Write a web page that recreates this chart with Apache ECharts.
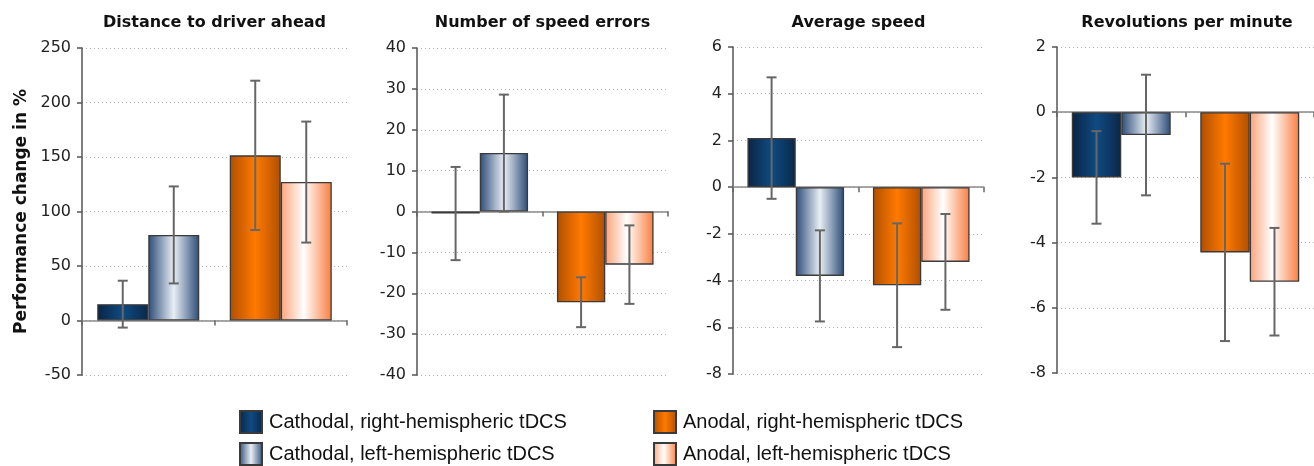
<!DOCTYPE html>
<html>
<head>
<meta charset="utf-8">
<script src="https://cdn.jsdelivr.net/npm/echarts@6/dist/echarts.min.js"></script>
<style>
  html, body { margin: 0; padding: 0; background: #fff; }
  #main { width: 1314px; height: 466px; }
</style>
</head>
<body>
<div id="main"></div>
<script>
// chart data
var categories = ['Cathodal', 'Anodal'];
var panelTitles = ['Distance to driver ahead', 'Number of speed errors', 'Average speed', 'Revolutions per minute'];
var seriesNames = ['Cathodal, right-hemispheric tDCS', 'Cathodal, left-hemispheric tDCS',
  'Anodal, right-hemispheric tDCS', 'Anodal, left-hemispheric tDCS'];

// one value per panel
var cathodalRight = [15, -0.5, 2.1, -2.0];
var cathodalLeft = [78.5, 14.3, -3.8, -0.7];
var anodalRight = [151.5, -22.2, -4.2, -4.3];
var anodalLeft = [127, -13, -3.2, -5.2];

// error bar half-widths
var cathodalRightErr = [21.5, 11.4, 2.6, 1.42];
var cathodalLeftErr = [44.5, 14.3, 1.95, 1.85];
var anodalRightErr = [68.5, 6.1, 2.65, 2.72];
var anodalLeftErr = [55.5, 9.6, 2.05, 1.65];

// y axis ticks
var yMin = [-50, -40, -8, -8];
var yMax = [250, 40, 6, 2];
var yStep = [50, 10, 2, 2];

var myChart = echarts.init(document.getElementById('main'));

var BAR_FRAC = 0.385;
var grids = [
  { left: 82, top: 48, width: 265, height: 327 },
  { left: 417, top: 48, width: 251, height: 327 },
  { left: 733, top: 47, width: 251, height: 327 },
  { left: 1057, top: 47, width: 260, height: 326 }
];
// legend item spots (2 x 2)
var legendPos = [[239, 410], [239, 442], [653, 410], [653, 442]];

function grad(stops) {
  return new echarts.graphic.LinearGradient(0, 0, 1, 0, stops.map(function(s) {
    return { offset: s[0], color: s[1] };
  }));
}
var fills = [
  grad([[0, '#0a2444'], [0.5, '#0f4b82'], [1, '#0a2748']]),
  grad([[0, '#2c4c78'], [0.5, '#e8eef4'], [1, '#2c4c78']]),
  grad([[0, '#b04f00'], [0.5, '#ff7a00'], [1, '#b04f00']]),
  grad([[0, '#fca27a'], [0.45, '#ffffff'], [1, '#f97e40']])
];

var option = {
  backgroundColor: '#fff',
  animation: false,
  title: [],
  grid: grids,
  xAxis: [],
  yAxis: [],
  legend: [],
  series: []
};

for (var k = 0; k < 4; k++) {
  option.legend.push({
    left: legendPos[k][0], top: legendPos[k][1], padding: 0,
    icon: 'rect', itemWidth: 22, itemHeight: 22,
    selectedMode: false,
    data: [seriesNames[k]],
    textStyle: { fontFamily: 'Liberation Sans', fontSize: 20, color: '#111', padding: [0, 0, 0, 2] }
  });
}

var groupValues = [cathodalRight, cathodalLeft, anodalRight, anodalLeft];
var groupErrs = [cathodalRightErr, cathodalLeftErr, anodalRightErr, anodalLeftErr];

for (var p = 0; p < 4; p++) {
  var g = grids[p];
  option.title.push({
    text: panelTitles[p],
    left: g.left + g.width / 2,
    top: 15,
    padding: 0,
    textAlign: 'center',
    textStyle: { fontFamily: 'DejaVu Sans', fontSize: 16, fontWeight: 'bold', color: '#111' }
  });
  option.xAxis.push({
    type: 'category', gridIndex: p, data: categories,
    axisLine: { onZero: true, lineStyle: { color: '#8a8a8a', width: 1.5 } },
    axisTick: { show: true, length: 5, lineStyle: { color: '#666', width: 1.5 } },
    axisLabel: { show: false },
    splitLine: { show: false }
  });
  var y = {
    type: 'value', gridIndex: p, min: yMin[p], max: yMax[p], interval: yStep[p],
    axisLine: { show: true, onZero: false, lineStyle: { color: '#555', width: 1.5 } },
    axisTick: { show: true, length: 5, lineStyle: { color: '#555', width: 1.5 } },
    axisLabel: { margin: 11, fontFamily: 'DejaVu Sans', fontSize: 16, color: '#222' },
    splitLine: { show: true, lineStyle: { color: '#b0b0b0', type: [1, 3], width: 1 } }
  };
  if (p === 0) {
    y.name = 'Performance change in %';
    y.nameLocation = 'middle';
    y.nameRotate = 90;
    y.nameGap = 52;
    y.nameTextStyle = { fontFamily: 'DejaVu Sans', fontSize: 17, fontWeight: 'bold', color: '#111' };
  }
  option.yAxis.push(y);

  // bars: right-hemispheric and left-hemispheric stacks share slots across categories
  for (var s = 0; s < 4; s++) {
    var isCathodal = s < 2;
    var v = groupValues[s][p];
    option.series.push({
      name: seriesNames[s],
      type: 'bar',
      xAxisIndex: p, yAxisIndex: p,
      stack: (s % 2 === 0 ? 'right' : 'left') + p,
      barWidth: (BAR_FRAC * 100) + '%',
      barGap: '0%',
      itemStyle: { color: fills[s], borderColor: '#3a3a3a', borderWidth: 1.3 },
      emphasis: { disabled: true },
      data: isCathodal ? [v, '-'] : ['-', v]
    });
  }

  // error bars
  var errData = [];
  for (var s2 = 0; s2 < 4; s2++) {
    errData.push([s2 < 2 ? 0 : 1, groupValues[s2][p], groupErrs[s2][p], s2 % 2 === 0 ? -1 : 1]);
  }
  option.series.push({
    type: 'custom',
    xAxisIndex: p, yAxisIndex: p,
    z: 5,
    silent: true,
    data: errData,
    renderItem: function(params, api) {
      var cat = api.value(0), mean = api.value(1), err = api.value(2), side = api.value(3);
      var band = api.size([1, 0])[0];
      var dx = side * band * BAR_FRAC / 2;
      var hi = api.coord([cat, mean + err]);
      var lo = api.coord([cat, mean - err]);
      var x = hi[0] + dx;
      var cap = 5;
      var style = { stroke: '#666', lineWidth: 2, fill: null };
      return {
        type: 'group',
        children: [
          { type: 'line', shape: { x1: x, y1: hi[1], x2: x, y2: lo[1] }, style: style },
          { type: 'line', shape: { x1: x - cap, y1: hi[1], x2: x + cap, y2: hi[1] }, style: style },
          { type: 'line', shape: { x1: x - cap, y1: lo[1], x2: x + cap, y2: lo[1] }, style: style }
        ]
      };
    }
  });
}

myChart.setOption(option);
</script>
</body>
</html>
